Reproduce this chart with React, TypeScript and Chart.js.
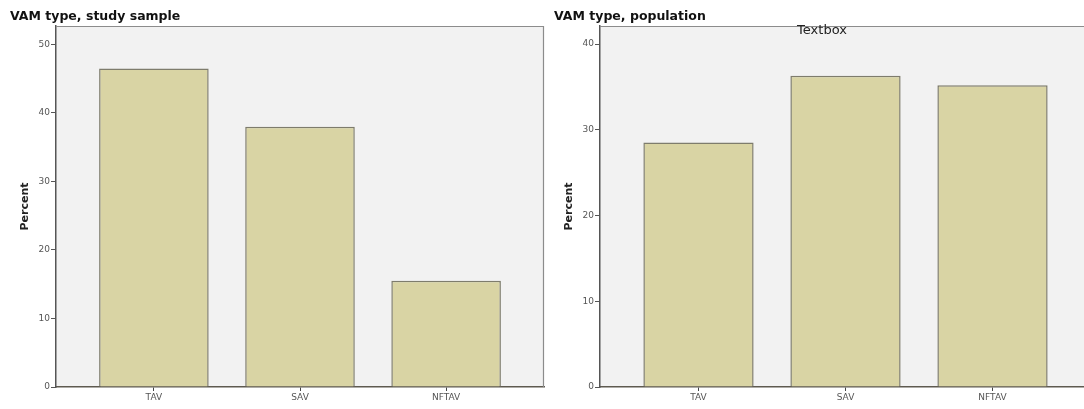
import React, { useEffect, useRef } from "react";
import { Chart, registerables } from "chart.js";

Chart.register(...registerables);

// ---- data ----
const categories = ["TAV", "SAV", "NFTAV"];
const sampleValues = [46.5, 38.0, 15.5];
const populationValues = [28.5, 36.3, 35.2];
const sampleYTicks = [0, 10, 20, 30, 40, 50];
const populationYTicks = [0, 10, 20, 30, 40];
const sampleTitle = "VAM type, study sample";
const populationTitle = "VAM type, population";
const yAxisTitle = "Percent";
const annotationText = "Textbox";
const annotationX = 0.84;

const FONT = "DejaVu Sans";

type Opts = {
  values: number[];
  yTicks: number[];
  yMax: number;
  title: string;
  padLeft: number;
  padRight: number;
  yAxisWidth: number;
  annotation?: string;
};

const framePlugin = {
  id: "frame",
  beforeDraw(chart: any) {
    const { ctx, chartArea: a } = chart;
    ctx.save();
    ctx.fillStyle = "#f2f2f2";
    ctx.fillRect(a.left, a.top, a.right - a.left, a.bottom - a.top);
    ctx.restore();
  },
  afterDraw(chart: any) {
    const { ctx, chartArea: a } = chart;
    ctx.save();
    ctx.strokeStyle = "#8c8c8c";
    ctx.lineWidth = 1.2;
    ctx.beginPath();
    ctx.moveTo(a.left, a.top + 0.5);
    ctx.lineTo(a.right, a.top + 0.5);
    ctx.moveTo(a.right - 0.5, a.top);
    ctx.lineTo(a.right - 0.5, a.bottom);
    ctx.stroke();
    const ann = chart.options.plugins.annotationText;
    if (ann && ann.text) {
      ctx.fillStyle = "#222";
      ctx.font = `13px "${FONT}"`;
      ctx.textAlign = "center";
      ctx.textBaseline = "middle";
      ctx.fillText(ann.text, chart.scales.x.getPixelForValue(ann.x), a.top + 5);
    }
    ctx.restore();
  },
};

function makeConfig(o: Opts): any {
  return {
    type: "bar",
    data: {
      datasets: [
        {
          data: o.values.map((v, i) => ({ x: i, y: v })),
          backgroundColor: "#d9d4a4",
          borderColor: "#7e7c6c",
          borderWidth: 1.5,
          borderSkipped: "start",
          barPercentage: 0.75,
          categoryPercentage: 1,
        },
      ],
    },
    options: {
      animation: false,
      responsive: true,
      maintainAspectRatio: false,
      layout: { padding: { left: o.padLeft, right: o.padRight, top: 0, bottom: 0 } },
      plugins: {
        legend: { display: false },
        tooltip: { enabled: false },
        title: {
          display: true,
          text: o.title,
          align: "start",
          color: "#111",
          font: { family: FONT, size: 12.5, weight: "bold", lineHeight: 1.2 },
          padding: { top: 8.8, bottom: 2.2 },
        },
        annotationText: { text: o.annotation, x: annotationX },
      },
      scales: {
        x: {
          type: "linear",
          min: -0.67,
          max: 2.67,
          offset: false,
          afterBuildTicks: (s: any) => {
            s.ticks = categories.map((_, i) => ({ value: i }));
          },
          afterFit: (s: any) => {
            s.height = 22;
          },
          grid: {
            display: true,
            offset: false,
            drawOnChartArea: false,
            drawTicks: true,
            tickLength: 4,
            color: "#444",
            tickColor: "#444",
          },
          border: { display: true, color: "#5e5a50", width: 1.5 },
          ticks: {
            autoSkip: false,
            maxRotation: 0,
            padding: 1,
            color: "#555",
            font: { family: FONT, size: 9 },
            callback: (v: any) => categories[Math.round(v)] ?? "",
          },
        },
        y: {
          type: "linear",
          min: 0,
          max: o.yMax,
          afterBuildTicks: (s: any) => {
            s.ticks = o.yTicks.map((v) => ({ value: v }));
          },
          afterFit: (s: any) => {
            s.width = o.yAxisWidth;
          },
          grid: {
            display: true,
            drawOnChartArea: false,
            drawTicks: true,
            tickLength: 5,
            tickColor: "#555",
          },
          border: { display: true, color: "#555", width: 1.5 },
          ticks: {
            padding: 1,
            color: "#555",
            font: { family: FONT, size: 9 },
          },
          title: {
            display: true,
            text: yAxisTitle,
            color: "#222",
            font: { family: FONT, size: 11, weight: "bold", lineHeight: 1.2 },
            padding: { top: 8.4, bottom: 0 },
          },
        },
      },
    },
    plugins: [framePlugin],
  };
}

function ChartBox(props: { opts: Opts; left: number; width: number }) {
  const ref = useRef<HTMLCanvasElement | null>(null);
  useEffect(() => {
    if (!ref.current) return;
    const chart = new Chart(ref.current, makeConfig(props.opts));
    return () => chart.destroy();
  }, []);
  return (
    <div
      style={{
        position: "absolute",
        left: props.left,
        top: 0,
        width: props.width,
        height: 409,
      }}
    >
      <canvas ref={ref} />
    </div>
  );
}

export default function App() {
  return (
    <div
      style={{
        position: "absolute",
        left: 0,
        top: 0,
        width: 1084,
        height: 409,
        overflow: "hidden",
        background: "#fff",
      }}
    >
      <ChartBox
        left={0}
        width={550}
        opts={{
          values: sampleValues,
          yTicks: sampleYTicks,
          yMax: 52.7,
          title: sampleTitle,
          padLeft: 10,
          padRight: 6,
          yAxisWidth: 46,
        }}
      />
      <ChartBox
        left={540}
        width={560}
        opts={{
          values: populationValues,
          yTicks: populationYTicks,
          yMax: 42.1,
          title: populationTitle,
          padLeft: 14,
          padRight: 9,
          yAxisWidth: 46,
          annotation: annotationText,
        }}
      />
    </div>
  );
}
